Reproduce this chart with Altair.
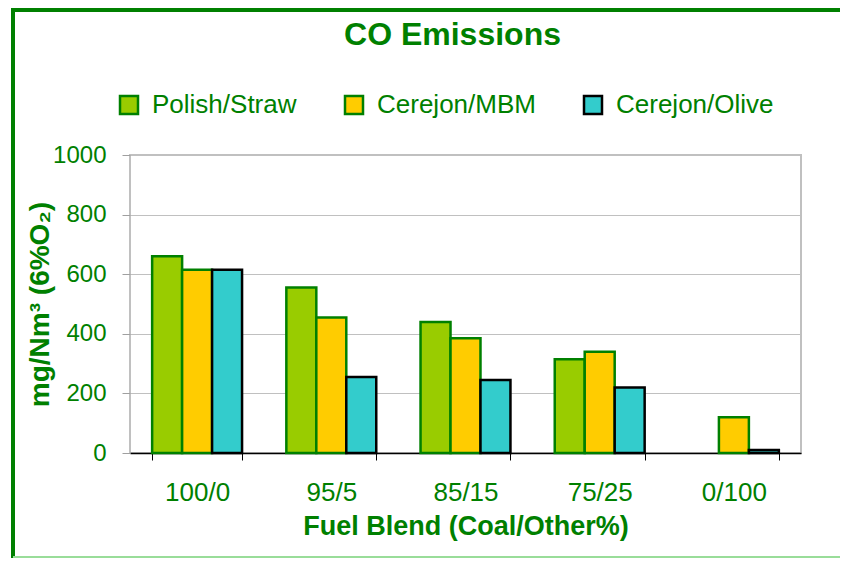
import altair as alt
import pandas as pd

categories = ["100/0", "95/5", "85/15", "75/25", "0/100"]
series_names = ["Polish/Straw", "Cerejon/MBM", "Cerejon/Olive"]
polish_straw = [660, 555, 440, 315, None]
cerejon_mbm = [615, 455, 385, 340, 120]
cerejon_olive = [615, 255, 245, 220, 10]

fills = ["#99cc00", "#ffcc00", "#33cccc"]
strokes = ["#008000", "#008000", "#000000"]
GREEN = "#008000"
FONT = "Liberation Sans"

rows = []
for name, vals in zip(series_names, [polish_straw, cerejon_mbm, cerejon_olive]):
    for cat, v in zip(categories, vals):
        if v is not None:
            rows.append({"blend": cat, "series": name, "value": v})
df = pd.DataFrame(rows)

bars = alt.Chart(df).mark_bar(strokeWidth=2.5).encode(
    x=alt.X("blend:N", sort=categories,
            scale=alt.Scale(paddingInner=0.33, paddingOuter=0.165),
            axis=alt.Axis(title="Fuel Blend (Coal/Other%)", labelAngle=0,
                          tickBand="extent", tickSize=7, tickColor="#000000",
                          domainColor="#000000", domainWidth=1.5,
                          labelFontSize=26, labelPadding=19,
                          labelColor=GREEN, titleColor=GREEN,
                          labelFont=FONT, titleFont=FONT, titleFontWeight="bold",
                          titleFontSize=27, titlePadding=8)),
    xOffset=alt.XOffset("series:N", sort=series_names,
                        scale=alt.Scale(paddingInner=0, paddingOuter=0)),
    y=alt.Y("value:Q", scale=alt.Scale(domain=[0, 1000]),
            axis=alt.Axis(title="mg/Nm³ (6%O₂)", values=[0, 200, 400, 600, 800, 1000],
                          format="d",
                          tickSize=8, tickColor="#a0a0a0", domain=False,
                          labelFontSize=24, labelPadding=16,
                          labelColor=GREEN, titleColor=GREEN,
                          labelFont=FONT, titleFont=FONT, titleFontWeight="bold",
                          titleFontSize=28, titleAngle=-90, titleX=-90, titleY=149,
                          titleAlign="center", titleBaseline="middle",
                          gridColor="#c0c0c0", gridWidth=1.2)),
    fill=alt.Fill("series:N", sort=series_names,
                  scale=alt.Scale(domain=series_names, range=fills),
                  legend=alt.Legend(title=None, orient="none", direction="horizontal",
                                    legendX=-14, legendY=-63,
                                    symbolType="square", symbolSize=324,
                                    symbolStrokeWidth=2.5, labelFontSize=26,
                                    labelFont=FONT, labelColor=GREEN,
                                    labelOffset=10, columnPadding=43,
                                    labelLimit=400)),
    stroke=alt.Stroke("series:N", sort=series_names,
                      scale=alt.Scale(domain=series_names, range=strokes),
                      legend=None),
)

frame_df = pd.DataFrame({"k": [0]})
left_line = alt.Chart(frame_df).mark_rule(color=GREEN, strokeWidth=4).encode(
    x=alt.value(-117), y=alt.value(-145), y2=alt.value(403))
top_line = alt.Chart(frame_df).mark_rule(color=GREEN, strokeWidth=4).encode(
    x=alt.value(-119), x2=alt.value(720), y=alt.value(-145))
bottom_line = alt.Chart(frame_df).mark_rule(color="#99dd99", strokeWidth=2).encode(
    x=alt.value(-117), x2=alt.value(720), y=alt.value(402))

chart = alt.layer(bars, left_line, top_line, bottom_line).properties(
    width=671, height=298,
    autosize=alt.AutoSizeParams(type="none"),
    padding={"left": 122, "top": 147, "right": 39, "bottom": 106},
    title=alt.TitleParams("CO Emissions", fontSize=32, fontWeight="bold",
                          color=GREEN, font=FONT, anchor="middle", frame="group",
                          dx=-13, offset=-44),
).configure(
    background="white"
).configure_view(
    stroke="#c0c0c0", strokeWidth=2
)

chart.save("out.html", embed_options={"renderer": "svg", "actions": False})
